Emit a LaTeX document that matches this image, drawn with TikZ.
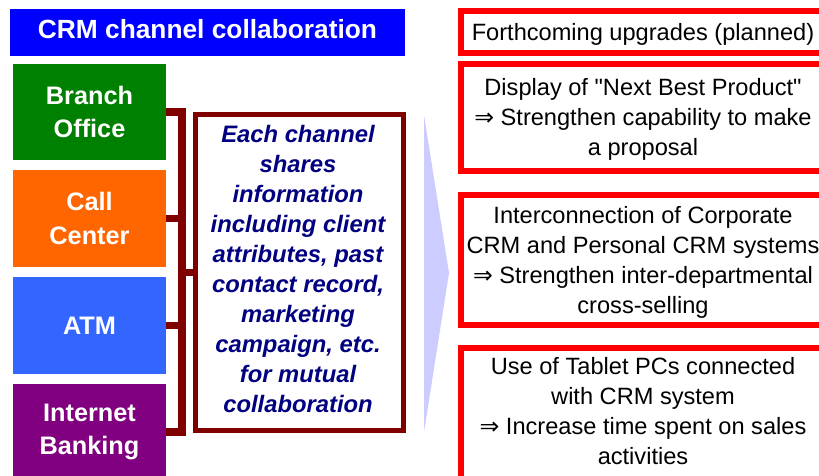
\documentclass[tikz,border=0pt]{standalone}
\usepackage{fontspec}
\setmainfont{Liberation Sans}[Ligatures=TeXOff]
\newfontfamily\djv{DejaVu Sans}
\definecolor{ttlblue}{HTML}{0000FF}
\definecolor{brgreen}{HTML}{008000}
\definecolor{ccorange}{HTML}{FF6600}
\definecolor{atmblue}{HTML}{3366FF}
\definecolor{ibpurple}{HTML}{800080}
\definecolor{darkred}{HTML}{800000}
\definecolor{navytext}{HTML}{000080}
\definecolor{lavender}{HTML}{CCCCFF}
\definecolor{boxred}{HTML}{FF0000}
\newcommand{\imp}{{\djv ⇒}}
\tikzset{
  chbox/.style={fill=#1, draw=none, inner sep=0pt, minimum width=153pt, text=white,
    font=\bfseries\fontsize{25.3}{33.5}\selectfont, align=center},
  brk/.style={draw=darkred, line width=7.5pt, line join=miter},
  midbox/.style={draw=darkred, line width=5pt, inner sep=0pt, minimum width=207.5pt, minimum height=316.5pt},
  midtext/.style={text=navytext, font=\bfseries\itshape\fontsize{23.8}{30.1}\selectfont, align=center, inner sep=0pt},
  rbox/.style={draw=boxred, line width=6pt, inner sep=0pt, minimum width=369.5pt},
  rtext/.style={text=black, font=\fontsize{23.6}{30}\selectfont, align=center, inner sep=0pt},
}
\begin{document}
\begin{tikzpicture}[x=1pt,y=-1pt]
\useasboundingbox (0,0) rectangle (819,475);
\begin{scope}
\clip (0,0) rectangle (819,475);
% title
\node[fill=ttlblue, inner sep=0pt, minimum width=395pt, minimum height=47pt] (title) at (207.5,32.5) {};
\node[text=white, font=\bfseries\fontsize{26.3}{30}\selectfont, inner sep=0pt] (titletext) at (207.5,29.5) {CRM channel collaboration};
% channels
\node[chbox=brgreen, minimum height=96pt] (ch1) at (89.5,112) {Branch\\Office};
\node[chbox=ccorange, minimum height=97pt] (ch2) at (89.5,218.5) {Call\\Center};
\node[chbox=atmblue, minimum height=97pt] (ch3) at (89.5,325.5) {ATM};
\node[chbox=ibpurple, minimum height=96pt] (ch4) at (89.5,432) {Internet\\Banking};
% middle box
\node[midbox] (mid) at (299.25,272.25) {};
\node[midtext] (midt) at (298,269) {Each channel\\shares\\information\\including client\\attributes, past\\contact record,\\marketing\\campaign, etc.\\for mutual\\collaboration};
% bracket
\coordinate (bt) at (182,112);
\coordinate (bb) at (182,432);
\draw[brk] (ch1.east) -- (bt) -- (bb) -- (ch4.east);
\draw[brk] (ch2.east) -- (ch2.east -| bt);
\draw[brk] (ch3.east) -- (ch3.east -| bt);
\draw[brk] (bt |- mid.west) -- (mid.west);
% arrow
\fill[lavender] (424,115) -- (449,273) -- (424,432) -- cycle;
% right boxes
\node[rbox, minimum height=42pt] (b1) at (645.25,31.5) {};
\node[rbox, minimum height=106.5pt] (b2) at (645.25,117.5) {};
\node[rbox, minimum height=130pt] (b3) at (645.25,260) {};
\node[rbox, minimum height=132pt] (b4) at (645.25,414) {};
\node[rtext] (t1) at (643,34.7) {Forthcoming upgrades (planned)};
\node[rtext] (t2) at (643,119) {Display of "Next Best Product"\\\imp{} Strengthen capability to make\\a proposal};
\node[rtext] (t3) at (643,262) {Interconnection of Corporate\\CRM and Personal CRM systems\\\imp{} Strengthen inter-departmental\\cross-selling};
\node[rtext] (t4) at (643,411.5) {Use of Tablet PCs connected\\with CRM system\\\imp{} Increase time spent on sales\\activities};
\end{scope}
\end{tikzpicture}
\end{document}
